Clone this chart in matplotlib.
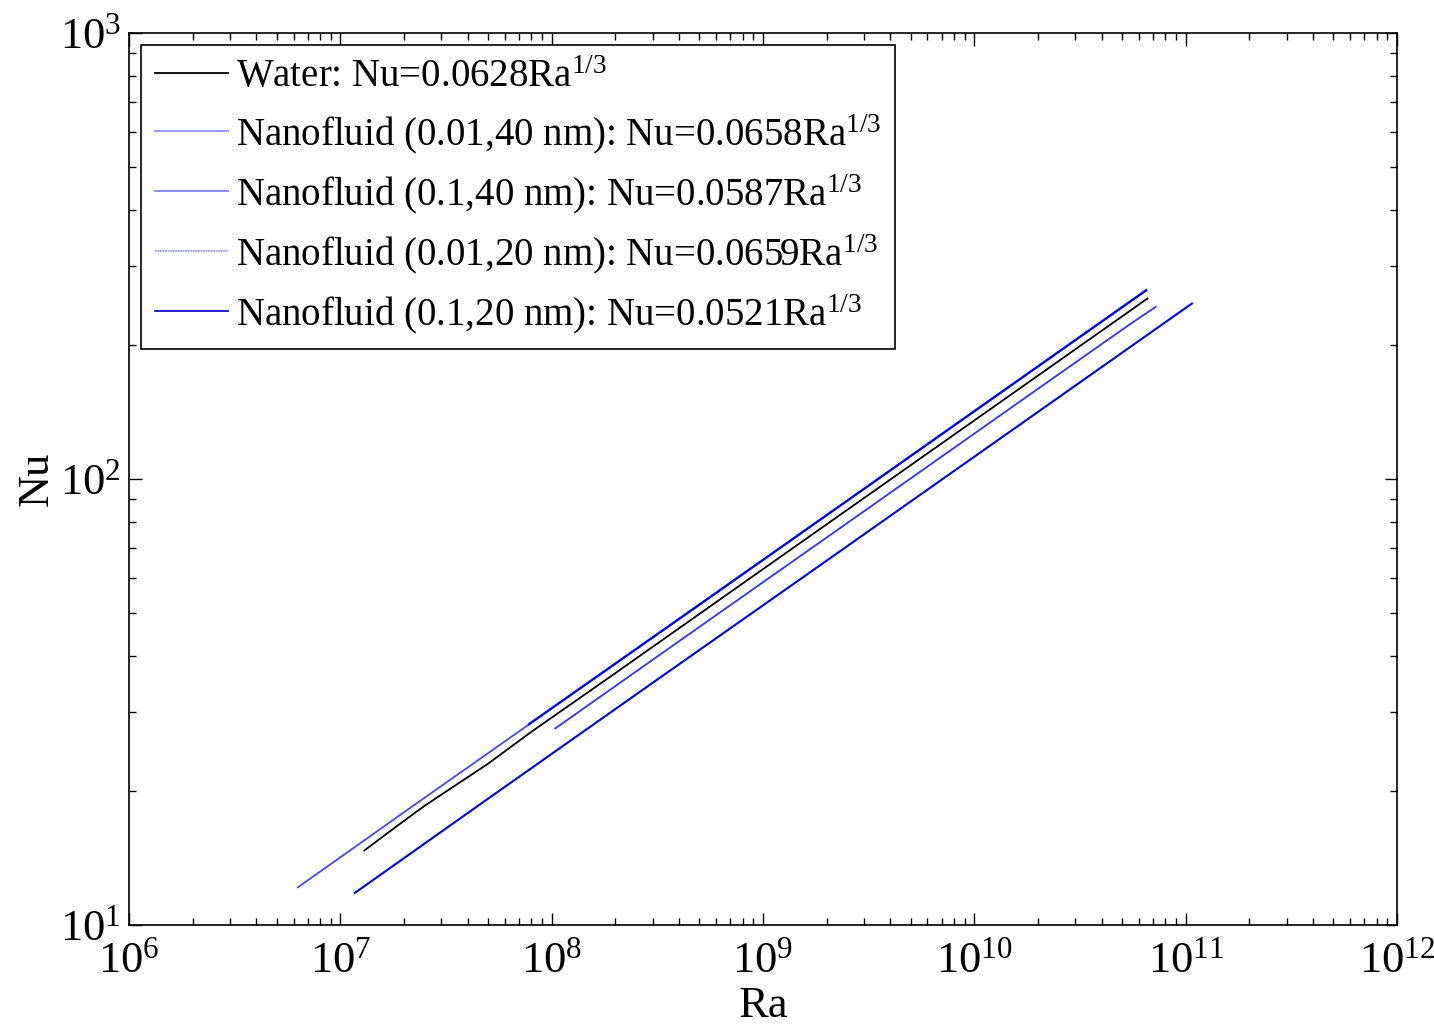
import numpy as np
import matplotlib
matplotlib.use("Agg")
import matplotlib.pyplot as plt

plt.rcParams['font.family'] = ['Liberation Serif', 'DejaVu Serif']
plt.rcParams['mathtext.fontset'] = 'custom'
plt.rcParams['mathtext.rm'] = 'Liberation Serif'
plt.rcParams['mathtext.it'] = 'Liberation Serif:italic'

# values
ra_water = [1.3e7, 1.8e7, 2.5e7, 5e7, 8e7, 2e8, 1e9, 5e9, 2e10, 6.6e10]
nu_water = [14.7, 16.5, 18.5, 23.0, 27.1, 36.7, 62.8, 107.4, 170.5, 254.0]

ra_np1 = [6.3e6, 2e7, 8e7, 5e8, 3e9, 2e10, 6.5e10]
nu_np1 = [12.15, 17.9, 28.4, 52.2, 94.9, 178.6, 264.6]

ra_np2 = [1.04e8, 5e8, 3e9, 2e10, 5.5e10, 7.2e10]
nu_np2 = [27.6, 46.6, 84.6, 159.3, 223.0, 243.0]

ra_np3 = [7.8e7, 5e8, 3e9, 2e10, 6.5e10]
nu_np3 = [28.2, 52.3, 95.0, 178.9, 265.0]

ra_np4 = [1.17e7, 5e7, 3e8, 2e9, 1e10, 5e10, 1.07e11]
nu_np4 = [11.8, 19.2, 34.9, 65.6, 112.2, 191.9, 247.4]

labels = [
    r'Water: Nu=0.0628$\mathregular{Ra}^{1/3}$',
    r'Nanofluid (0.01,40 nm): Nu=0.0658$\mathregular{Ra}^{1/3}$',
    r'Nanofluid (0.1,40 nm): Nu=0.0587$\mathregular{Ra}^{1/3}$',
    r'Nanofluid (0.01,20 nm): Nu=0.0659$\mathregular{Ra}^{1/3}$',
    r'Nanofluid (0.1,20 nm): Nu=0.0521$\mathregular{Ra}^{1/3}$',
]

fig = plt.figure(figsize=(14.34, 10.27), dpi=100)
ax = fig.add_axes([0.0900, 0.0993, 0.8842, 0.8686])

ax.plot(ra_water, nu_water, color='black', lw=1.3, label=labels[0])
ax.plot(ra_np1, nu_np1, color='#4545ff', lw=1.3, label=labels[1])
ax.plot(ra_np2, nu_np2, color='#3030ff', lw=1.3, label=labels[2])
ax.plot(ra_np3, nu_np3, color='#0000ff', lw=1.6, label=labels[3])
ax.plot(ra_np4, nu_np4, color='#0000f0', lw=1.5, label=labels[4])

ax.set_xscale('log')
ax.set_yscale('log')
ax.set_xlim(1e6, 1e12)
ax.set_ylim(10, 1000)

ax.tick_params(which='both', direction='in', top=True, right=True, labelsize=32)
ax.tick_params(which='major', length=9, width=1)
ax.tick_params(which='minor', length=5, width=1)
ax.tick_params(axis='x', pad=12)
ax.tick_params(axis='y', pad=6)
for s in ax.spines.values():
    s.set_linewidth(1.2)

ax.set_xlabel('Ra', fontsize=32, labelpad=3)
ax.set_ylabel('Nu', fontsize=32, labelpad=2)

leg = ax.legend(loc='upper left', bbox_to_anchor=(0.0095, 0.9865), borderaxespad=0,
                fontsize=28, fancybox=False, edgecolor='black', framealpha=1,
                handlelength=1.88, handletextpad=0.2, labelspacing=0.42,
                borderpad=0.35)
leg.get_frame().set_linewidth(1.2)
leg_colors = ['black', '#9090ff', '#8080ff', '#9898ff', '#1010cc']
leg_styles = ['-', '-', '-', (0, (1, 0.4)), '-']
for line, c, st in zip(leg.get_lines(), leg_colors, leg_styles):
    line.set_color(c)
    line.set_linestyle(st)
    line.set_linewidth(1.3)

fig.savefig('out.png', dpi=100, facecolor='white')
